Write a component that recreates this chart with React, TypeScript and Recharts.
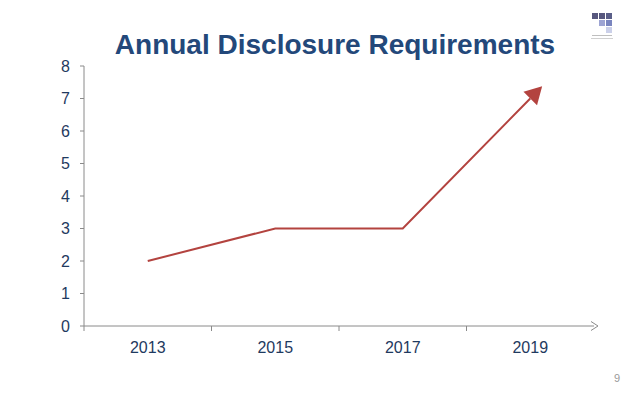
import { LineChart, Line, XAxis, YAxis } from "recharts";

const years = ["2013", "2015", "2017", "2019"];
const requirements = [2, 3, 3, 7];
const yTicks = [0, 1, 2, 3, 4, 5, 6, 7, 8];

const data = years.map((year, i) => ({ year, value: requirements[i] }));

const TITLE = "#23487a";
const LABEL = "#1f3a60";
const AXIS = "#8a8a8a";
const LINE = "#b3433f";
const FONT = "'Liberation Sans', Arial, sans-serif";

// year labels sit in the middle of each band, tick marks on the band edges
function YearTick(props: any) {
  const { x, y, payload } = props;
  const half = payload && payload.offset ? payload.offset : 63.5;
  const axisY = y - 16;
  return (
    <g>
      <line x1={x - half} x2={x - half} y1={axisY} y2={axisY + 5} stroke={AXIS} />
      <text x={x} y={y} dy="0.71em" textAnchor="middle" fill={LABEL} fontSize={16} fontFamily={FONT}>
        {payload.value}
      </text>
    </g>
  );
}

function Overlay() {
  return (
    <svg width={638} height={399} style={{ position: "absolute", left: 0, top: 0, pointerEvents: "none" }}>
      <defs>
        <marker id="lineHead" markerUnits="userSpaceOnUse" markerWidth={24} markerHeight={24} refX={0} refY={0} viewBox="-2 -12 24 24" orient="auto" overflow="visible">
          <path d="M0,-9.5 L17,0 L0,9.5 Z" fill={LINE} />
        </marker>
        <marker id="axisHead" markerUnits="userSpaceOnUse" markerWidth={12} markerHeight={12} refX={0} refY={0} viewBox="-8 -6 12 12" orient="auto" overflow="visible">
          <path d="M-3,-4.5 L4,0 L-3,4.5" fill="none" stroke={AXIS} strokeWidth={1} />
        </marker>
      </defs>
      <text x={335} y={54} textAnchor="middle" fill={TITLE} fontSize={28} fontWeight="bold" fontFamily={FONT}>
        Annual Disclosure Requirements
      </text>
      {/* small logo, top right */}
      <g opacity={0.85}>
        <rect x={592} y={13} width={6} height={6} fill="#3a3a68" />
        <rect x={599} y={13} width={6} height={6} fill="#3a3a68" />
        <rect x={606} y={13} width={6} height={6} fill="#3e4274" />
        <rect x={599} y={20} width={6} height={6} fill="#8d95cc" />
        <rect x={606} y={20} width={6} height={6} fill="#6370b4" />
        <rect x={606} y={27} width={6} height={6} fill="#c2c8e6" />
        <rect x={592} y={35} width={20} height={1} fill="#b5b5b5" />
        <rect x={591} y={38} width={22} height={1} fill="#c8c8c8" />
      </g>
      <text x={617} y={382} textAnchor="middle" fill="#9a9a9a" fontSize={11} fontFamily={FONT}>
        9
      </text>
    </svg>
  );
}

export default function App() {
  return (
    <div style={{ position: "absolute", left: 0, top: 0, width: 638, height: 399, background: "#fff", fontFamily: FONT }}>
      <LineChart width={638} height={399} data={data} margin={{ top: 66, right: 44, bottom: 43, left: 24 }}>
        <XAxis
          dataKey="year"
          scale="band"
          tick={<YearTick />}
          tickLine={false}
          tickSize={0}
          tickMargin={16}
          height={30}
          axisLine={{ stroke: AXIS, markerEnd: "url(#axisHead)" } as any}
        />
        <YAxis
          domain={[0, 8]}
          ticks={yTicks}
          interval={0}
          width={60}
          tickSize={4}
          tickMargin={10}
          axisLine={{ stroke: AXIS }}
          tickLine={{ stroke: AXIS }}
          tick={{ fill: LABEL, fontSize: 16, fontFamily: FONT }}
        />
        <Line
          dataKey="value"
          type="linear"
          stroke={LINE}
          strokeWidth={2}
          dot={false}
          activeDot={false}
          markerEnd="url(#lineHead)"
          isAnimationActive={false}
        />
      </LineChart>
      <Overlay />
    </div>
  );
}
